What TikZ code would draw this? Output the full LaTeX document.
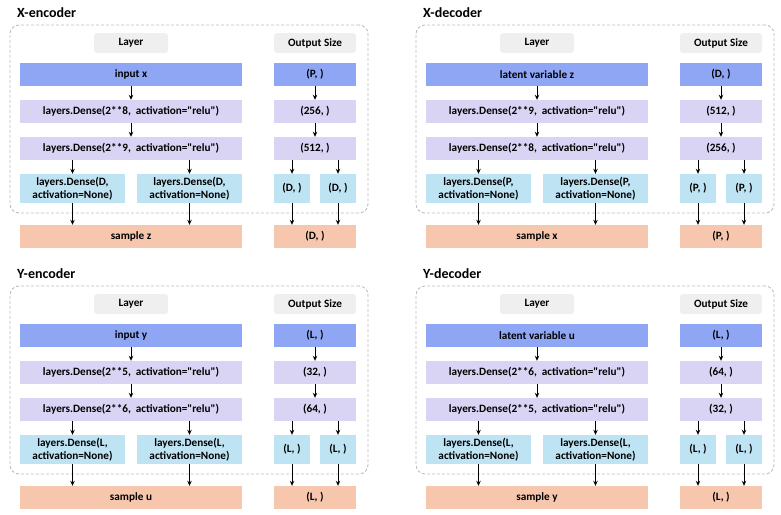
\documentclass[tikz,border=0pt]{standalone}
\usepackage{fontspec}
\setmainfont{Carlito}[Ligatures=TeXOff]
\usetikzlibrary{arrows.meta}
\definecolor{cin}{HTML}{8FA6F5}
\definecolor{cdense}{HTML}{D9D4F4}
\definecolor{csplit}{HTML}{BEE3F3}
\definecolor{csample}{HTML}{F7C7AD}
\definecolor{chead}{HTML}{EFEFEF}
\definecolor{cdash}{HTML}{BDBDBD}
\tikzset{
  blk/.style={draw=none, rectangle, inner sep=0pt, align=center,
    font=\fontsize{11.2}{12.5}\selectfont\bfseries},
  headbox/.style={blk, fill=chead, rounded corners=3pt, minimum height=20pt},
  conn/.style={line width=1pt, -{Stealth[length=5pt,width=4.5pt]}},
  panelframe/.style={draw=cdash, line width=0.9pt, dash pattern=on 3pt off 2pt, rounded corners=9pt},
  ttl/.style={anchor=west, inner sep=0pt, font=\fontsize{14}{16}\selectfont\bfseries}
}
\begin{document}
\begin{tikzpicture}[x=1pt,y=-1pt]
\useasboundingbox (0,0) rectangle (781,514);
\foreach \px/\py/\p/\ttl/\inp/\insz/\da/\sa/\db/\sb/\L/\smp in {
  0/0/a/X-encoder/input x/P/8/256/9/512/D/sample z,
  406/0/b/X-decoder/latent variable z/D/9/512/8/256/P/sample x,
  0/261/c/Y-encoder/input y/L/5/32/6/64/L/sample u,
  406/261/d/Y-decoder/latent variable u/L/6/64/5/32/L/sample y}
{
\begin{scope}[shift={(\px,\py)}]
  \node[ttl] (\p-title) at (17,13) {\ttl};
  \node[draw=none, inner sep=0pt, minimum width=358pt, minimum height=188pt, panelframe] (\p-frame) at (189,119) {};
  \node[headbox, minimum width=74pt] (\p-hl) at (131,43) {Layer};
  \node[headbox, minimum width=82pt] (\p-ho) at (315,43) {Output Size};
  % main column
  \node[blk, fill=cin, minimum width=222pt, minimum height=23pt] (\p-in) at (131,74.5) {\inp};
  \node[blk, fill=cdense, minimum width=222pt, minimum height=23pt] (\p-d1) at (131,111.5) {layers.Dense(2**\da,\ \ activation="relu")};
  \node[blk, fill=cdense, minimum width=222pt, minimum height=23pt] (\p-d2) at (131,148.5) {layers.Dense(2**\db,\ \ activation="relu")};
  \node[blk, fill=csplit, minimum width=105pt, minimum height=29pt] (\p-sl) at (72.5,188.5) {layers.Dense(\L,\\activation=None)};
  \node[blk, fill=csplit, minimum width=105pt, minimum height=29pt] (\p-sr) at (189.5,188.5) {layers.Dense(\L,\\activation=None)};
  \node[blk, fill=csample, minimum width=222pt, minimum height=23pt] (\p-sm) at (131,236.5) {\smp};
  % output column
  \node[blk, fill=cin, minimum width=82pt, minimum height=23pt] (\p-oin) at (315,74.5) {(\insz, )};
  \node[blk, fill=cdense, minimum width=82pt, minimum height=23pt] (\p-o1) at (315,111.5) {(\sa, )};
  \node[blk, fill=cdense, minimum width=82pt, minimum height=23pt] (\p-o2) at (315,148.5) {(\sb, )};
  \node[blk, fill=csplit, minimum width=36pt, minimum height=29pt] (\p-ol) at (292,188.5) {(\L, )};
  \node[blk, fill=csplit, minimum width=36pt, minimum height=29pt] (\p-or) at (338,188.5) {(\L, )};
  \node[blk, fill=csample, minimum width=82pt, minimum height=23pt] (\p-osm) at (315,236.5) {(\L, )};
  % connectors
  \draw[conn] (\p-in) -- (\p-d1);
  \draw[conn] (\p-d1) -- (\p-d2);
  \draw[conn] (\p-sl.north |- \p-d2.south) -- (\p-sl.north);
  \draw[conn] (\p-sr.north |- \p-d2.south) -- (\p-sr.north);
  \draw[conn] (\p-sl.south) -- (\p-sl.south |- \p-sm.north);
  \draw[conn] (\p-sr.south) -- (\p-sr.south |- \p-sm.north);
  \draw[conn] (\p-oin) -- (\p-o1);
  \draw[conn] (\p-o1) -- (\p-o2);
  \draw[conn] (\p-ol.north |- \p-o2.south) -- (\p-ol.north);
  \draw[conn] (\p-or.north |- \p-o2.south) -- (\p-or.north);
  \draw[conn] (\p-ol.south) -- (\p-ol.south |- \p-osm.north);
  \draw[conn] (\p-or.south) -- (\p-or.south |- \p-osm.north);
\end{scope}
}
\end{tikzpicture}
\end{document}
